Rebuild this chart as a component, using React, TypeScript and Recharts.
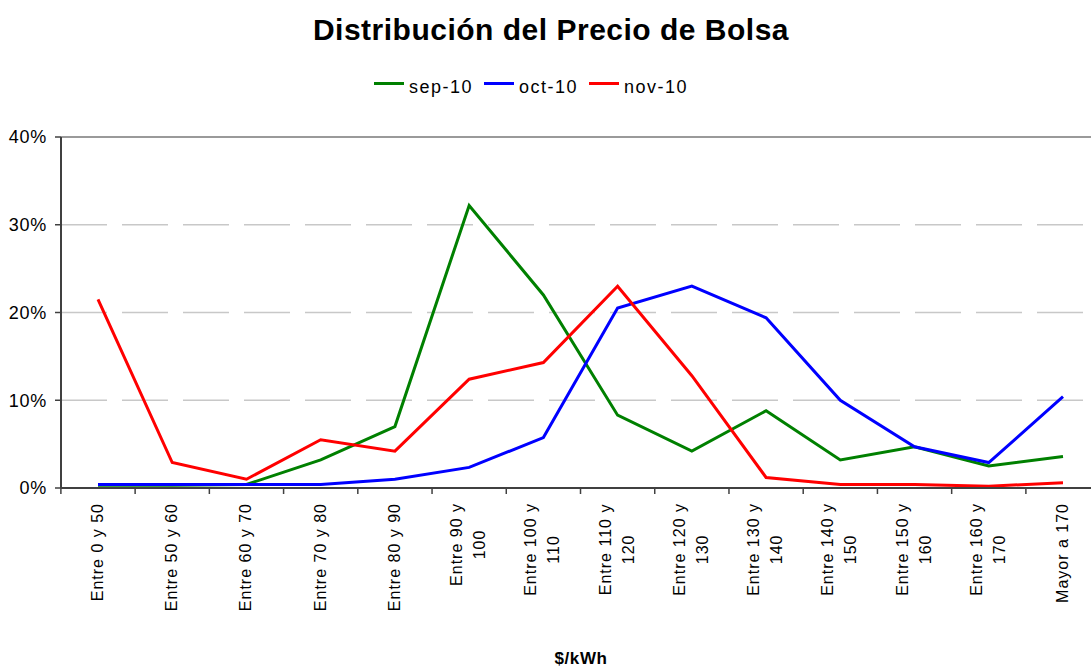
import React from "react";
import { LineChart, Line, XAxis, YAxis, CartesianGrid, Legend, ReferenceLine } from "recharts";

const categories = [
  "Entre 0 y 50",
  "Entre 50 y 60",
  "Entre 60 y 70",
  "Entre 70 y 80",
  "Entre 80 y 90",
  "Entre 90 y\n100",
  "Entre 100 y\n110",
  "Entre 110 y\n120",
  "Entre 120 y\n130",
  "Entre 130 y\n140",
  "Entre 140 y\n150",
  "Entre 150 y\n160",
  "Entre 160 y\n170",
  "Mayor a 170",
];
const sep10 = [0.3, 0.3, 0.4, 3.2, 7.0, 32.2, 22.0, 8.3, 4.2, 8.8, 3.2, 4.7, 2.5, 3.6];
const oct10 = [0.4, 0.4, 0.4, 0.4, 1.0, 2.35, 5.75, 20.5, 23.0, 19.4, 10.0, 4.7, 2.9, 10.4];
const nov10 = [21.5, 2.9, 1.0, 5.5, 4.2, 12.4, 14.3, 23.0, 12.8, 1.2, 0.4, 0.4, 0.2, 0.6];
const yTicks = [0, 10, 20, 30, 40];
const seriesNames = ["sep-10", "oct-10", "nov-10"];
const seriesColors = ["#008000", "#0000FF", "#FF0000"];

const data = categories.map((c, i) => ({
  cat: c,
  "sep-10": sep10[i],
  "oct-10": oct10[i],
  "nov-10": nov10[i],
}));

const FONT = '"Liberation Sans", Arial, sans-serif';
const CHART_W = 1110;
const M_LEFT = 61;
const M_RIGHT = 10;
const AXIS_COLOR = "#404040";

const CW: Record<string, number> = {
  E: 667, n: 556, t: 278, r: 333, e: 556, " ": 278, y: 500, M: 833, a: 556, o: 556,
};
const XFS = 16;
const XLS = 1.0;
function textW(s: string) {
  let w = 0;
  for (const ch of s) w += CW[ch] ?? 556;
  return (w * XFS) / 1000 + s.length * XLS;
}

const XTick = (props: any) => {
  const { x, y, payload, index, visibleTicksCount } = props;
  const count = visibleTicksCount || categories.length;
  const plotW = typeof props.width === "number" && props.width > 0 ? props.width : CHART_W - M_LEFT - M_RIGHT;
  const band = plotW / count;
  const lines = String(payload.value).split("\n");
  const gap = 15;
  const common = {
    fontFamily: FONT,
    fontSize: XFS,
    letterSpacing: XLS,
    fill: "#000",
    stroke: "none",
  } as any;
  const tickMarks = (
    <>
      <line x1={-band / 2} x2={-band / 2} y1={0} y2={6} stroke={AXIS_COLOR} strokeWidth={1.5} />
      {index === count - 1 && (
        <line x1={band / 2} x2={band / 2} y1={0} y2={6} stroke={AXIS_COLOR} strokeWidth={1.5} />
      )}
    </>
  );
  if (lines.length === 1) {
    return (
      <g transform={`translate(${x},${y})`}>
        {tickMarks}
        <text transform="rotate(-90)" x={-gap} y={5} textAnchor="end" {...common}>
          {lines[0]}
        </text>
      </g>
    );
  }
  const w = textW(lines[0]);
  const cx = -(gap + w / 2);
  return (
    <g transform={`translate(${x},${y})`}>
      {tickMarks}
      <text transform="rotate(-90)" x={cx} y={-7} textAnchor="middle" {...common}>
        {lines[0]}
      </text>
      <text transform="rotate(-90)" x={cx} y={16} textAnchor="middle" {...common}>
        {lines[1]}
      </text>
    </g>
  );
};

const LegendContent = () => (
  <div
    style={{
      display: "flex",
      justifyContent: "center",
      alignItems: "flex-start",
      fontFamily: FONT,
      fontSize: 18,
      letterSpacing: 1.5,
      lineHeight: "20px",
      color: "#000",
    }}
  >
    {seriesNames.map((n, i) => (
      <div key={n} style={{ display: "flex", alignItems: "flex-start", marginLeft: i === 0 ? 0 : 11 }}>
        <svg width={30} height={20} style={{ display: "block" }}>
          <line x1={0} x2={30} y1={6.5} y2={6.5} stroke={seriesColors[i]} strokeWidth={3} />
        </svg>
        <span style={{ marginLeft: 5 }}>{n}</span>
      </div>
    ))}
  </div>
);

export default function App() {
  return (
    <div style={{ position: "absolute", left: 0, top: 0, width: 1091, height: 670, overflow: "hidden", background: "#fff" }}>
      <LineChart
        width={CHART_W}
        height={670}
        data={data}
        margin={{ top: 117, right: M_RIGHT, bottom: 0, left: 0 }}
      >
        <CartesianGrid
          vertical={false}
          stroke="#c8c8c8"
          strokeWidth={1.5}
          strokeDasharray="46 15"
        />
        <ReferenceLine y={40} stroke="#9a9a9a" strokeWidth={2} ifOverflow="extendDomain" />
        <XAxis
          dataKey="cat"
          type="category"
          interval={0}
          height={182}
          axisLine={{ stroke: AXIS_COLOR, strokeWidth: 2 }}
          tickLine={false}
          tickSize={0}
          tickMargin={0}
          padding={{ left: 37, right: 37 }}
          tick={<XTick />}
        />
        <YAxis
          width={M_LEFT}
          domain={[0, 40]}
          ticks={yTicks}
          tickFormatter={(v: number) => `${v}%`}
          tickSize={6}
          tickMargin={8}
          axisLine={{ stroke: AXIS_COLOR, strokeWidth: 2 }}
          tickLine={{ stroke: AXIS_COLOR, strokeWidth: 1.5 }}
          tick={{ fontFamily: FONT, fontSize: 18, fill: "#000", letterSpacing: 0.7 } as any}
          interval={0}
        />
        <Legend
          verticalAlign="top"
          content={<LegendContent />}
          wrapperStyle={{ top: 77, left: 0, width: 1062, position: "absolute" }}
        />
        {seriesNames.map((n, i) => (
          <Line
            key={n}
            dataKey={n}
            stroke={seriesColors[i]}
            strokeWidth={3}
            dot={false}
            activeDot={false}
            isAnimationActive={false}
            strokeLinejoin="miter"
          />
        ))}
      </LineChart>
      <svg
        width={1091}
        height={670}
        style={{ position: "absolute", left: 0, top: 0, pointerEvents: "none" }}
      >
        <text x={551} y={40} textAnchor="middle" fontFamily={FONT} fontSize={30} fontWeight="bold" letterSpacing={0.5} fill="#000">
          Distribución del Precio de Bolsa
        </text>
        <text x={581} y={664} textAnchor="middle" fontFamily={FONT} fontSize={17} fontWeight="bold" letterSpacing={0.6} fill="#000">
          $/kWh
        </text>
      </svg>
    </div>
  );
}
